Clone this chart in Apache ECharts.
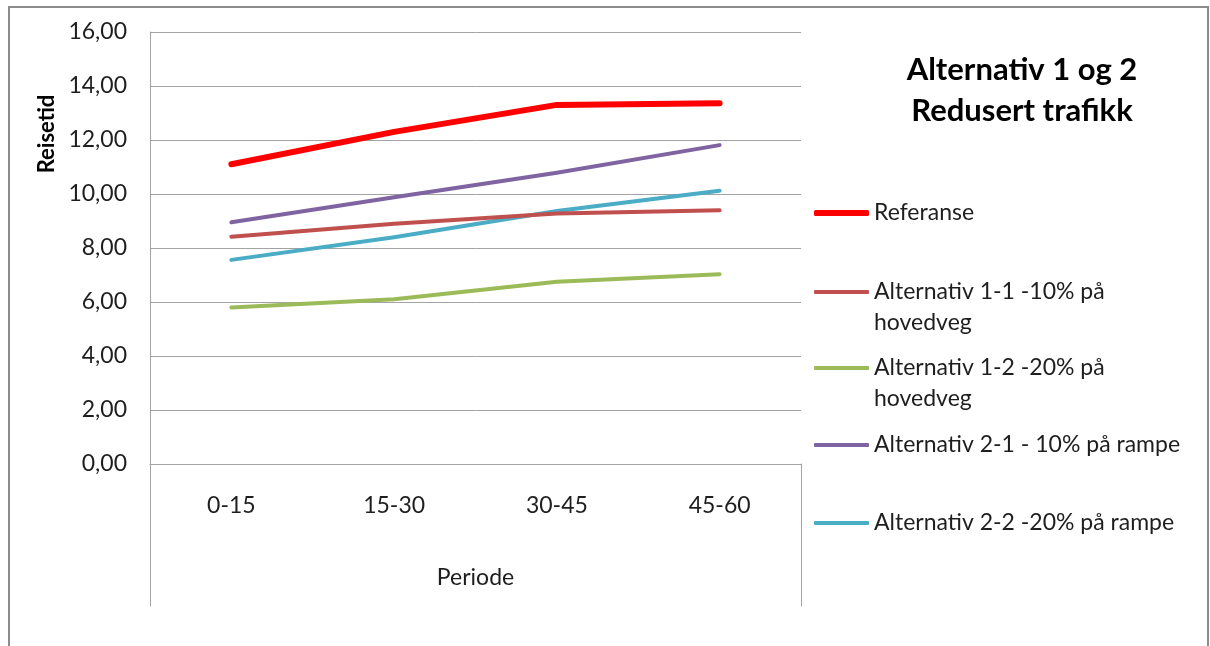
<!DOCTYPE html>
<html>
<head>
<meta charset="utf-8">
<script src="https://cdn.jsdelivr.net/npm/echarts@6/dist/echarts.min.js"></script>
<style>
  html, body { margin: 0; padding: 0; background: #ffffff; }
  #chart { width: 1210px; height: 646px; }
</style>
</head>
<body>
<div id="chart"></div>
<script>
// Reisetid per periode (minutter)
const categories = ['0-15', '15-30', '30-45', '45-60'];
const referanse = [11.10, 12.30, 13.30, 13.36];
const alt11 = [8.42, 8.90, 9.28, 9.40];
const alt12 = [5.80, 6.10, 6.75, 7.03];
const alt21 = [8.95, 9.88, 10.79, 11.81];
const alt22 = [7.56, 8.40, 9.37, 10.12];
const seriesNames = [
  'Referanse',
  'Alternativ 1-1 -10% på hovedveg',
  'Alternativ 1-2 -20% på hovedveg',
  'Alternativ 2-1 - 10% på rampe',
  'Alternativ 2-2 -20% på rampe'
];
const legendLabels = [
  'Referanse',
  'Alternativ 1-1 -10% på\nhovedveg',
  'Alternativ 1-2 -20% på\nhovedveg',
  'Alternativ 2-1 - 10% på rampe',
  'Alternativ 2-2 -20% på rampe'
];
const yMin = 0, yMax = 16, yStep = 2;

const colors = ['#ff0000', '#c0504d', '#9bbb59', '#8064a2', '#4bacc6'];
const widths = [6, 4, 4, 4, 4];
const values = [referanse, alt11, alt12, alt21, alt22];

const FONT = 'Lato, "Open Sans", sans-serif';
const TEXT = '#1e1e1e';
const GRID = '#a3a3a3';
const LINE_H = 31;

// vertical centre of each legend swatch
const legendRowY = [213, 292, 368, 445, 523];

const chart = echarts.init(document.getElementById('chart'));

// Wrapped entries keep their first line level with the swatch: the label box
// gets one empty line of top padding so the first text line sits on its centre.
const legends = seriesNames.map((name, i) => {
  const twoLines = legendLabels[i].indexOf('\n') >= 0;
  const boxHalf = twoLines ? (LINE_H * 3) / 2 : LINE_H / 2;
  const base = { fontFamily: FONT, fontSize: 23, color: TEXT, lineHeight: LINE_H };
  return {
    orient: 'vertical',
    left: 814,
    top: legendRowY[i] - boxHalf,
    padding: 0,
    selectedMode: false,
    icon: 'roundRect',
    itemWidth: 55,
    itemHeight: widths[i],
    data: [name],
    formatter: () => twoLines
      ? legendLabels[i].split('\n').map(s => '{t|' + s + '}').join('\n')
      : legendLabels[i],
    textStyle: twoLines
      ? Object.assign({}, base, { padding: [LINE_H, 0, 0, 0], rich: { t: base } })
      : base
  };
});

const option = {
  backgroundColor: '#ffffff',
  animation: false,
  color: colors,
  legend: legends,
  grid: [
    { left: 150, right: 409, top: 32, bottom: 182 },
    { left: 150, right: 409, top: 464, bottom: 40 }
  ],
  xAxis: [
    {
      type: 'category',
      gridIndex: 0,
      data: categories,
      boundaryGap: true,
      axisTick: { show: false },
      axisLine: { show: true, lineStyle: { color: GRID, width: 1 } },
      axisLabel: { fontFamily: FONT, fontSize: 23, color: TEXT, margin: 30 },
      name: 'Periode',
      nameLocation: 'middle',
      nameGap: 102,
      nameTextStyle: { fontFamily: FONT, fontSize: 23, color: TEXT }
    },
    {
      type: 'category',
      gridIndex: 1,
      data: categories,
      show: false
    }
  ],
  yAxis: [
    {
      type: 'value',
      gridIndex: 0,
      min: yMin,
      max: yMax,
      interval: yStep,
      axisLine: { show: true, lineStyle: { color: GRID, width: 1 } },
      axisTick: { show: false },
      splitLine: { show: true, lineStyle: { color: GRID, width: 1 } },
      axisLabel: {
        fontFamily: FONT, fontSize: 23, color: TEXT, margin: 23,
        formatter: v => v.toFixed(2).replace('.', ',')
      }
    },
    {
      type: 'value', gridIndex: 1, position: 'left', min: 0, max: 1,
      axisLine: { show: true, lineStyle: { color: GRID, width: 1 } },
      axisTick: { show: false }, axisLabel: { show: false }, splitLine: { show: false }
    },
    {
      type: 'value', gridIndex: 1, position: 'right', min: 0, max: 1,
      axisLine: { show: true, lineStyle: { color: GRID, width: 1 } },
      axisTick: { show: false }, axisLabel: { show: false }, splitLine: { show: false }
    }
  ],
  series: seriesNames.map((name, i) => ({
    name: name,
    type: 'line',
    xAxisIndex: 0,
    yAxisIndex: 0,
    data: values[i],
    symbol: 'none',
    z: 10 - i,
    lineStyle: { color: colors[i], width: widths[i], cap: 'round', join: 'round' },
    itemStyle: { color: colors[i] }
  })),
  graphic: [
    {
      type: 'rect',
      shape: { x: 9, y: 7, width: 1199, height: 720 },
      style: { fill: 'none', stroke: '#8c8c8c', lineWidth: 2 },
      silent: true
    },
    {
      type: 'text',
      x: 1022,
      y: 49,
      style: {
        text: 'Alternativ 1 og 2\nRedusert trafikk',
        align: 'center',
        verticalAlign: 'top',
        lineHeight: 41,
        font: 'bold 31px Lato, "Open Sans", sans-serif',
        fill: '#000000'
      }
    },
    {
      type: 'text',
      x: 47,
      y: 134,
      rotation: Math.PI / 2,
      style: {
        text: 'Reisetid',
        align: 'center',
        verticalAlign: 'middle',
        font: 'bold 22px Lato, "Open Sans", sans-serif',
        fill: '#000000'
      }
    }
  ]
};

chart.setOption(option);
</script>
</body>
</html>
